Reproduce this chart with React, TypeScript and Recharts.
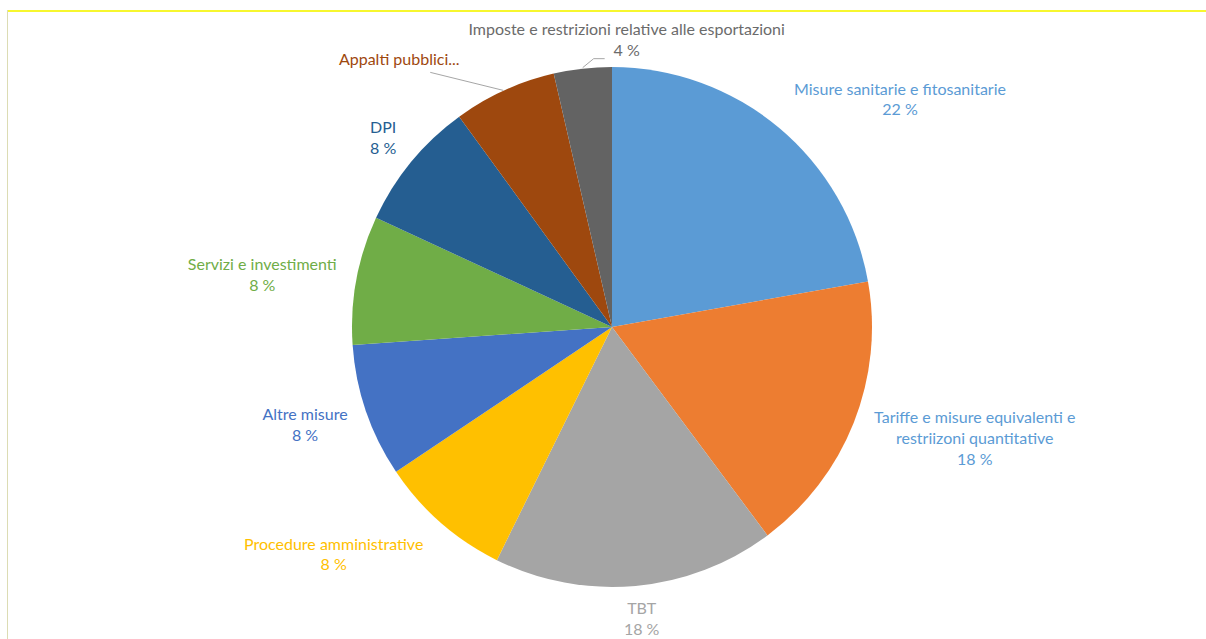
import React from "react";
import { PieChart, Pie, Cell } from "recharts";

const categories = [
  "Misure sanitarie e fitosanitarie",
  "Tariffe e misure equivalenti e restriizoni quantitative",
  "TBT",
  "Procedure amministrative",
  "Altre misure",
  "Servizi e investimenti",
  "DPI",
  "Appalti pubblici",
  "Imposte e restrizioni relative alle esportazioni",
];
const values = [22.2, 17.6, 17.5, 8.3, 8.3, 8.0, 8.1, 6.4, 3.6];
const labelLines: string[][] = [
  ["Misure sanitarie e fitosanitarie"],
  ["Tariffe e misure equivalenti e", "restriizoni quantitative"],
  ["TBT"],
  ["Procedure amministrative"],
  ["Altre misure"],
  ["Servizi e investimenti"],
  ["DPI"],
  ["Appalti pubblici..."],
  ["Imposte e restrizioni relative alle esportazioni"],
];
const showPercent = [true, true, true, true, true, true, true, false, true];

const sliceColors = ["#5B9BD5", "#ED7D31", "#A5A5A5", "#FFC000", "#4472C4", "#70AD47", "#255E91", "#9E480E", "#636363"];
const textColors = ["#5B9BD5", "#5B9BD5", "#A5A5A5", "#FFC000", "#4472C4", "#70AD47", "#255E91", "#9E480E", "#6B6B6B"];
// label layout offsets relative to slice outer edge at mid angle: [dx, dy of first line center]
const labelOffsets: [number, number][] = [
  [121, -39.7],
  [121, -6],
  [6, 22],
  [-107, 20.5],
  [-61, 2],
  [-94, -16],
  [-28, -35],
  [-105, -32],
  [44, -40],
];
const LINE_H = 20.8;

const data = categories.map((name, i) => ({ name, value: values[i] }));

const RAD = Math.PI / 180;

const renderLabel = (props: any) => {
  const { cx, cy, midAngle, outerRadius, index, percent } = props;
  const ex = cx + outerRadius * Math.cos(-midAngle * RAD);
  const ey = cy + outerRadius * Math.sin(-midAngle * RAD);
  const [dx, dy] = labelOffsets[index];
  const x = ex + dx;
  const y0 = ey + dy;
  const lines = [...labelLines[index]];
  if (showPercent[index]) lines.push(`${Math.round(percent * 100 + 1e-6)} %`);
  return (
    <g key={`lbl-${index}`}>
      {index === 7 && (
        <line x1={ex - 1} y1={ey} x2={ex - 74} y2={ey - 18} stroke="#A6A6A6" strokeWidth={1} />
      )}
      {index === 8 && (
        <polyline
          points={`${ex},${ey - 1} ${ex + 11},${ey - 10} ${ex + 22},${ey - 10}`}
          fill="none"
          stroke="#A6A6A6"
          strokeWidth={1}
        />
      )}
      <text
        x={x}
        y={y0}
        textAnchor="middle"
        fill={textColors[index]}
        fontFamily="Lato, 'Noto Sans', sans-serif"
        fontSize={16}
      >
        {lines.map((l, k) => (
          <tspan key={k} x={x} y={y0 + k * LINE_H} dominantBaseline="central">
            {l}
          </tspan>
        ))}
      </text>
    </g>
  );
};

export default function App() {
  return (
    <div style={{ position: "fixed", left: 0, top: 0, width: 1206, height: 639, background: "#fff", overflow: "hidden" }}>
      <style>{`.main-pie .recharts-pie-sectors { filter: drop-shadow(0px 0px 3px rgba(0,0,0,0.35)); }`}</style>
      <div style={{ position: "absolute", left: 7, top: 10, width: 1199, height: 2, background: "#F7F72F" }} />
      <div style={{ position: "absolute", left: 7, top: 10, width: 1, height: 629, background: "#DCDCB4" }} />
      <PieChart
        width={1206}
        height={639}
        margin={{ top: 0, right: 0, bottom: 0, left: 0 }}
        style={{ position: "absolute", left: 0, top: 0 }}
      >
        <Pie
          className="main-pie"
          data={data}
          dataKey="value"
          nameKey="name"
          cx={612}
          cy={327}
          outerRadius={260}
          startAngle={90}
          endAngle={-270}
          stroke="none"
          label={renderLabel}
          labelLine={false}
          isAnimationActive={false}
        >
          {data.map((_, i) => (
            <Cell key={i} fill={sliceColors[i]} stroke="none" />
          ))}
        </Pie>
      </PieChart>
    </div>
  );
}
